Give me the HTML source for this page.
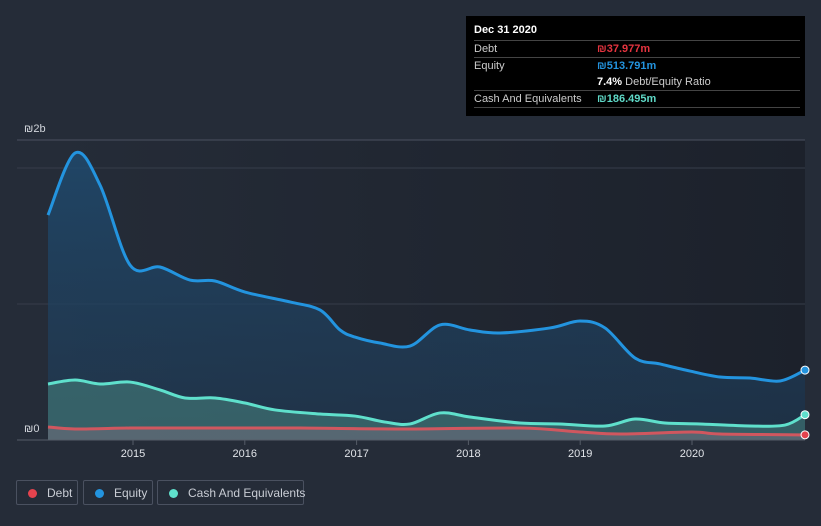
<!DOCTYPE html>
<html><head><meta charset="utf-8"><style>
body{margin:0;background:#252c38;font-family:"Liberation Sans",sans-serif;}
#wrap{position:relative;width:821px;height:526px;overflow:hidden;background:#252c38}
.tt{position:absolute;left:466px;top:16px;width:339px;height:100px;background:#000;color:#ccc;font-size:11px}
.tt .row{position:absolute;left:8px;width:326px;border-top:1px solid #444;height:16px;line-height:16px}
.lg{position:absolute;top:480px;height:25px;border:1px solid #4a5160;border-radius:2px;color:#c8ccd4;font-size:12px;line-height:25px;box-sizing:border-box;white-space:nowrap}
.lg i{display:inline-block;width:9px;height:9px;border-radius:50%;margin:0 10px 0 11px;vertical-align:-1px}
</style></head><body>
<div id="wrap">
<svg id="chart" width="821" height="526" style="position:absolute;left:0;top:0">
<defs>
<linearGradient id="bgG" x1="0" x2="1" y1="0" y2="0"><stop offset="0" stop-color="#252c38"/><stop offset="1" stop-color="#1c212b"/></linearGradient>
<linearGradient id="eqG" x1="0" x2="0" y1="0" y2="1"><stop offset="0" stop-color="#1f4a6e" stop-opacity="0.85"/><stop offset="1" stop-color="#1f3a55" stop-opacity="0.6"/></linearGradient>
</defs>
<rect x="48" y="140" width="757" height="300" fill="url(#bgG)"/>
<g id="grid"></g><g id="marks"></g><g id="axes"></g>
</svg>
<div class="tt">
<div style="position:absolute;left:8px;top:8px;color:#fff;font-weight:bold">Dec 31 2020</div>
<div class="row" style="top:24px">Debt<span style="position:absolute;left:123px;color:#e5343f;font-weight:bold">₪37.977m</span></div>
<div class="row" style="top:41px">Equity<span style="position:absolute;left:123px;color:#2394df;font-weight:bold">₪513.791m</span></div>
<div style="position:absolute;left:131px;top:58px;line-height:16px"><b style="color:#fff">7.4%</b> Debt/Equity Ratio</div>
<div class="row" style="top:74px;border-bottom:1px solid #444">Cash And Equivalents<span style="position:absolute;left:123px;color:#5fd9c7;font-weight:bold">₪186.495m</span></div>
</div>
<div class="lg" style="left:16px;width:62px"><i style="background:#e5434e"></i>Debt</div>
<div class="lg" style="left:83px;width:70px"><i style="background:#2394df"></i>Equity</div>
<div class="lg" style="left:157px;width:147px"><i style="background:#5fe0cc"></i>Cash And Equivalents</div>
</div>
<script>
const eqX=[48,75,100,130,160,190,215,245,290,320,340,355,380,410,440,470,500,550,580,605,635,660,690,720,750,780,805];
const equity=[1654,2110,1875,1287,1272,1176,1169,1088,1015,956,809,757,713,691,846,809,787,824,875,824,603,559,507,463,456,434,514];
const cashX=[48,75,100,130,160,185,215,245,275,320,355,385,410,440,470,520,560,605,635,665,700,750,785,805];
const cash=[412,441,412,426,368,309,309,272,221,191,176,132,118,199,169,125,118,103,154,125,118,103,110,186];
const debtX=[48,75,130,170,245,300,400,520,580,620,692,720,805];
const debt=[96,81,88,88,88,88,81,88,59,44,59,44,38];
const yTicks=[0,1000,2000];
const yLabels=["₪0","","₪2b"];
const xYears=[2015,2016,2017,2018,2019,2020];
const toYear=p=>2015+(p-133)/111.8;
const eqT=eqX.map(toYear),cashT=cashX.map(toYear),debtT=debtX.map(toYear);
const xs=t=>133+(t-2015)*111.8, ys=v=>440-v*0.136;
const NS="http://www.w3.org/2000/svg";
function mk(tag,a,parent){const e=document.createElementNS(NS,tag);for(const k in a)e.setAttribute(k,a[k]);parent.appendChild(e);return e;}
function path(T,V){const P=T.map((t,i)=>[xs(t),ys(V[i])]);let d="M"+P[0][0]+","+P[0][1];
for(let i=0;i<P.length-1;i++){const p0=P[Math.max(0,i-1)],p1=P[i],p2=P[i+1],p3=P[Math.min(P.length-1,i+2)];
const c1=[p1[0]+(p2[0]-p0[0])/6,p1[1]+(p2[1]-p0[1])/6],c2=[p2[0]-(p3[0]-p1[0])/6,p2[1]-(p3[1]-p1[1])/6];
d+=`C${c1[0]},${c1[1]} ${c2[0]},${c2[1]} ${p2[0]},${p2[1]}`;}return {d,P};}
const gridG=document.getElementById('grid'),marksG=document.getElementById('marks'),axesG=document.getElementById('axes');
const topLine=mk('line',{x1:17,x2:805,y1:140,y2:140,stroke:'#4a5160'},gridG);


yTicks.forEach((v,i)=>{if(v>0){const l=mk('line',{x1:17,x2:805,y1:ys(v),y2:ys(v),stroke:'#363d4a'},gridG);

}
if(yLabels[i]){const t=mk('text',{x:24,y:v===0?432:132,fill:'#d0d4da','font-size':11},axesG);t.textContent=yLabels[i];

}});
const base=mk('line',{x1:17,x2:805,y1:440,y2:440,stroke:'#555c68'},axesG);


xYears.forEach(y=>{const tk=mk('line',{x1:xs(y),x2:xs(y),y1:440,y2:445,stroke:'#555c68'},axesG);


const t=mk('text',{x:xs(y),y:457,fill:'#e0e3e8','font-size':11,'text-anchor':'middle'},axesG);t.textContent=y;

});
function series(T,V,color,fill,name){const {d,P}=path(T,V);
const a=mk('path',{d:d+`L${P[P.length-1][0]},440L${P[0][0]},440Z`,fill:fill},marksG);


const l=mk('path',{d,fill:'none',stroke:color,'stroke-width':3},marksG);


return P[P.length-1];}
const pe=series(eqT,equity,'#2394df','url(#eqG)','equity');
const pc=series(cashT,cash,'#5fe0cc','rgba(80,150,140,0.45)','cash');
const pd=series(debtT,debt,'#d0575f','rgba(120,110,125,0.5)','debt');
[[pe,'#2394df','equity'],[pc,'#5fe0cc','cash'],[pd,'#e5434e','debt']].forEach(([p,c,n])=>{
const m=mk('circle',{cx:p[0],cy:p[1],r:4,fill:c,stroke:'#fff','stroke-width':1},marksG);

});
</script>
</body></html>
